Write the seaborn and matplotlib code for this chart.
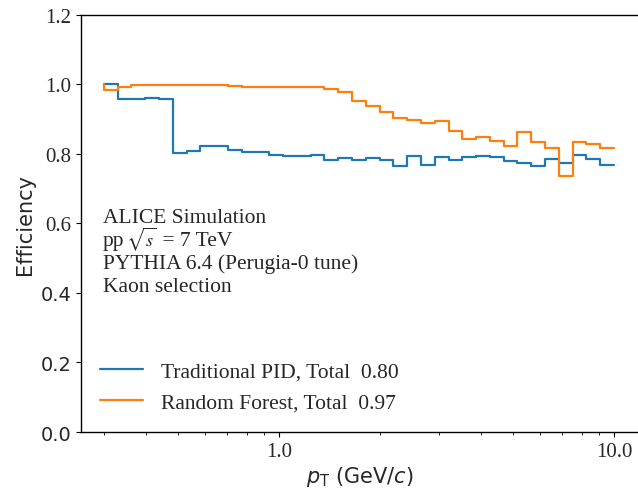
import numpy as np
import pandas as pd
import matplotlib
matplotlib.use("Agg")
import matplotlib.pyplot as plt
import seaborn as sns
from matplotlib.ticker import NullFormatter, LogLocator

# ---------------- data ----------------
pt_min, pt_max, n_bins = 0.3, 10.0, 37
bin_edges = np.geomspace(pt_min, pt_max, n_bins + 1)

series_labels = ["Traditional PID, Total  0.80", "Random Forest, Total  0.97"]
series_colors = ["#1f77b4", "#ff7f0e"]
start_values = [1.0, 1.0]

trad_eff = [1.000, 0.958, 0.958, 0.961, 0.958, 0.803, 0.807, 0.824, 0.824, 0.811,
            0.805, 0.805, 0.797, 0.793, 0.793, 0.797, 0.783, 0.788, 0.783, 0.788,
            0.782, 0.766, 0.794, 0.768, 0.791, 0.783, 0.790, 0.795, 0.791, 0.779,
            0.773, 0.766, 0.785, 0.773, 0.796, 0.785, 0.768]
rf_eff = [0.984, 0.992, 0.998, 0.998, 0.998, 0.998, 0.998, 0.998, 0.998, 0.995,
          0.992, 0.992, 0.992, 0.992, 0.992, 0.992, 0.987, 0.977, 0.952, 0.939,
          0.921, 0.903, 0.898, 0.889, 0.895, 0.867, 0.843, 0.850, 0.838, 0.824,
          0.864, 0.835, 0.816, 0.736, 0.834, 0.829, 0.817]

# each annotation line is a list of (text, is_math) pieces
annotation_lines = [
    [("ALICE Simulation", False)],
    [("pp", False), (r"$\,\sqrt{s}$", True), (" = 7 TeV", False)],
    [("PYTHIA 6.4 (Perugia-0 tune)", False)],
    [("Kaon selection", False)],
]

xtick_values = [1.0, 10.0]
xtick_labels = ["1.0", "10.0"]
ytick_values = [0.0, 0.2, 0.4, 0.6, 0.8, 1.0, 1.2]
ytick_labels = ["0.0", "0.2", "0.4", "0.6", "0.8", "1.0", "1.2"]

# ---------------- table ----------------
rows = []
for lab, start, vals in zip(series_labels, start_values, [trad_eff, rf_eff]):
    yv = [start] + list(vals)
    for x, y in zip(bin_edges, yv):
        rows.append({"pt": x, "eff": y, "method": lab})
df = pd.DataFrame(rows)

# ---------------- plot ----------------
sns.set_style("ticks")
serif = "Liberation Serif"
sans = "DejaVu Sans"

fig = plt.figure(figsize=(6.38, 4.89), dpi=100)
ax = fig.add_axes([0.127, 0.1145, 0.875, 0.853])

sns.lineplot(data=df, x="pt", y="eff", hue="method", palette=series_colors,
             estimator=None, sort=False, drawstyle="steps-pre", linewidth=1.6, ax=ax)

ax.set_xscale("log")
ax.set_xlim(0.2564, 11.9)
ax.set_ylim(0, 1.2)

ax.set_xticks(xtick_values, labels=xtick_labels)
ax.xaxis.set_minor_locator(LogLocator(base=10, subs=np.arange(2, 10)))
ax.xaxis.set_minor_formatter(NullFormatter())
ax.set_yticks(ytick_values, labels=ytick_labels)

for t in ax.get_xticklabels():
    t.set_fontfamily(serif)
    t.set_fontsize(15)
for t, v in zip(ax.get_yticklabels(), ytick_values):
    if v < 0.5:
        t.set_fontfamily(sans)
        t.set_fontsize(14)
    else:
        t.set_fontfamily(serif)
        t.set_fontsize(15)

ax.tick_params(axis="both", which="both", direction="out", color="black")
for s in ["left", "bottom", "top"]:
    ax.spines[s].set_color("black")
    ax.spines[s].set_linewidth(1.0)
ax.spines["right"].set_visible(False)

ax.set_xlabel(r"$p_{\mathrm{T}}$ (GeV/$c$)", fontsize=15, family=sans, labelpad=2)
ax.set_ylabel("Efficiency", fontsize=15, family=sans)

handles, labels = ax.get_legend_handles_labels()
ax.legend(handles, labels, loc="lower left", frameon=False,
          prop={"family": serif, "size": 15.5}, labelspacing=0.5,
          handlelength=2.0, handletextpad=0.8)

renderer = fig.canvas.get_renderer()
inv = ax.transAxes.inverted()
for i, pieces in enumerate(annotation_lines):
    x = 0.039
    y = 0.5036 - i * 0.0552
    for txt, is_math in pieces:
        kw = dict(transform=ax.transAxes, family=serif, va="baseline", ha="left")
        if is_math:
            t = ax.text(x, y, txt, fontsize=13, math_fontfamily="stix", **kw)
        else:
            t = ax.text(x, y, txt, fontsize=15.5, **kw)
        bb = t.get_window_extent(renderer)
        x = inv.transform((bb.x1, bb.y0))[0]

fig.savefig("out.png", dpi=100)
